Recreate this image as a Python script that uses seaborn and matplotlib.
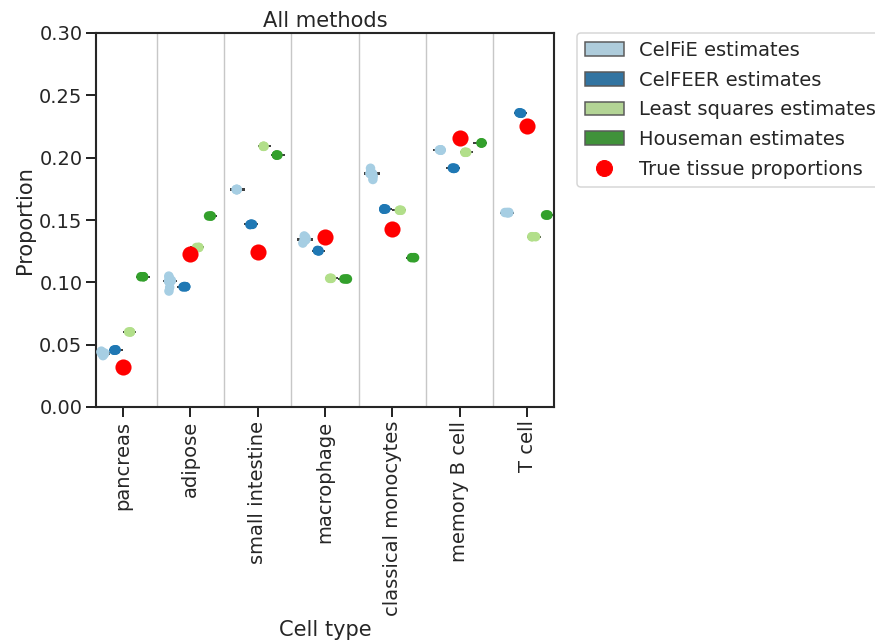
import numpy as np
import pandas as pd
import matplotlib
matplotlib.use("Agg")
import matplotlib.pyplot as plt
import matplotlib.patches as mpatches
from matplotlib.lines import Line2D
import seaborn as sns

cell_types = ["pancreas", "adipose", "small intestine", "macrophage",
              "classical monocytes", "memory B cell", "T cell"]
methods = ["CelFiE estimates", "CelFEER estimates",
           "Least squares estimates", "Houseman estimates"]

# replicate estimates per cell type
celfie = [
    [0.0412, 0.0422, 0.0430, 0.0430, 0.0430, 0.0432, 0.0440, 0.0448],
    [0.0930, 0.0960, 0.1006, 0.1010, 0.1010, 0.1010, 0.1012, 0.1015, 0.1040, 0.1050],
    [0.1742, 0.1744, 0.1745, 0.1745, 0.1746],
    [0.1315, 0.1335, 0.1345, 0.1345, 0.1345, 0.1346, 0.1360, 0.1372],
    [0.1825, 0.1850, 0.1870, 0.1872, 0.1872, 0.1874, 0.1890, 0.1915],
    [0.2060, 0.2061, 0.2062, 0.2062, 0.2063],
    [0.1557, 0.1559, 0.1560, 0.1560, 0.1561],
]
celfeer = [
    [0.0455, 0.0457, 0.0457, 0.0459],
    [0.0963, 0.0965, 0.0965, 0.0967],
    [0.1463, 0.1465, 0.1465, 0.1467],
    [0.1252, 0.1254, 0.1254, 0.1256],
    [0.1586, 0.1588, 0.1588, 0.1590],
    [0.1913, 0.1915, 0.1915, 0.1917],
    [0.2356, 0.2358, 0.2358, 0.2360],
]
least_squares = [
    [0.0602, 0.0602, 0.0602],
    [0.1280, 0.1280, 0.1280],
    [0.2091, 0.2091, 0.2091],
    [0.1032, 0.1032, 0.1032],
    [0.1578, 0.1578, 0.1578],
    [0.2043, 0.2043, 0.2043],
    [0.1366, 0.1366, 0.1366],
]
houseman = [
    [0.1045, 0.1045, 0.1045],
    [0.1532, 0.1532, 0.1532],
    [0.2021, 0.2021, 0.2021],
    [0.1027, 0.1027, 0.1027],
    [0.1198, 0.1198, 0.1198],
    [0.2118, 0.2118, 0.2118],
    [0.1540, 0.1540, 0.1540],
]
true_props = [0.0318, 0.1227, 0.1246, 0.1366, 0.1428, 0.2155, 0.2254]

rows = []
for m, series in zip(methods, [celfie, celfeer, least_squares, houseman]):
    for ct, vals in zip(cell_types, series):
        for v in vals:
            rows.append({"Cell type": ct, "Proportion": v, "method": m})
df = pd.DataFrame(rows)

sns.set_theme(style="ticks", context="talk")
plt.rcParams["font.family"] = ["DejaVu Sans"]
plt.rcParams.update({
    "xtick.labelsize": 19.5, "ytick.labelsize": 19.5,
    "axes.labelsize": 21, "axes.titlesize": 21,
    "xtick.major.size": 10, "ytick.major.size": 10,
    "xtick.major.width": 2, "ytick.major.width": 2,
    "axes.linewidth": 2.1,
})
palette = sns.color_palette("Paired", 4)

fig = plt.figure(figsize=(875 / 72, 641 / 72), dpi=72)
ax = fig.add_axes([96 / 875, 1 - 407 / 641, (554 - 96) / 875, (407 - 33) / 641])

for b in np.arange(0.5, len(cell_types) - 0.5, 1):
    ax.axvline(b, color="0.78", lw=1.4, zorder=0)

sns.boxplot(data=df, x="Cell type", y="Proportion", hue="method",
            order=cell_types, hue_order=methods, palette=palette,
            showfliers=False, showcaps=False, whis=0, width=0.8,
            linecolor="0.25", linewidth=2, legend=False, ax=ax)
np.random.seed(3)
sns.stripplot(data=df, x="Cell type", y="Proportion", hue="method",
              order=cell_types, hue_order=methods, palette=palette,
              dodge=True, jitter=0.14, size=9.5, linewidth=0,
              legend=False, ax=ax, zorder=4)
ax.scatter(np.arange(len(cell_types)), true_props, s=260, color="red",
           zorder=6, linewidths=0)

ax.set_xlim(-0.4, 6.4)
ax.set_ylim(0, 0.30)
ax.set_yticks([0, 0.05, 0.10, 0.15, 0.20, 0.25, 0.30])
ax.set_yticklabels(["0.00", "0.05", "0.10", "0.15", "0.20", "0.25", "0.30"])
ax.set_xticks(np.arange(len(cell_types)))
ax.set_xticklabels(cell_types, rotation=90)
ax.set_xlabel("Cell type")
ax.set_ylabel("Proportion")
ax.set_title("All methods")

handles = [mpatches.Patch(facecolor=sns.desaturate(c, 0.75), edgecolor="0.35",
                          linewidth=1.5, label=m)
           for c, m in zip(palette, methods)]
handles.append(Line2D([], [], marker="o", color="red", linestyle="",
                      markersize=16, label="True tissue proportions"))
ax.legend(handles=handles, loc="upper left", bbox_to_anchor=(1.05, 1),
          borderaxespad=0, fontsize=19.5, labelspacing=0.55)

fig.savefig("out.png", dpi=72)
